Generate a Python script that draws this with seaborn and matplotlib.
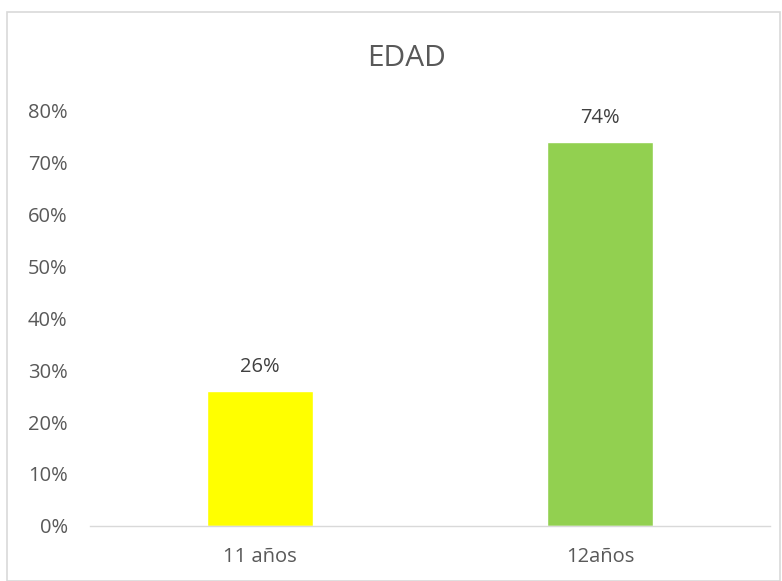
import matplotlib
matplotlib.use('Agg')
import matplotlib.pyplot as plt
import seaborn as sns
from matplotlib.ticker import PercentFormatter
from matplotlib.patches import Rectangle

# Données
categories = ['11 años', '12años']
valeurs = [0.26, 0.74]
couleurs = ['#FFFF00', '#92D050']
etiquettes = ['26%', '74%']

sns.set_style('white')
plt.rcParams['font.family'] = ['Open Sans', 'DejaVu Sans']

fig = plt.figure(figsize=(7.82, 5.81), dpi=100)
ax = fig.add_axes([0.115, 0.095, 0.87, 0.714])

sns.barplot(x=categories, y=valeurs, hue=categories, palette=couleurs,
            width=0.31, saturation=1, legend=False, ax=ax)

ax.set_ylim(0, 0.8)
ax.set_yticks([i / 10 for i in range(9)])
ax.yaxis.set_major_formatter(PercentFormatter(1.0, decimals=0))
ax.tick_params(axis='both', length=0, labelsize=14.5, colors='#595959')
ax.tick_params(axis='x', pad=15)
ax.tick_params(axis='y', pad=16)

for s in ['top', 'right', 'left']:
    ax.spines[s].set_visible(False)
ax.spines['bottom'].set_color('#D9D9D9')
ax.spines['bottom'].set_linewidth(1)

# Étiquettes des barres
for i, v in enumerate(valeurs):
    ax.annotate(etiquettes[i], (i, v), xytext=(0, 10), textcoords='offset points',
                ha='center', va='bottom', fontsize=14.5, color='#404040')

fig.text(0.52, 0.899, 'EDAD', ha='center', va='center', fontsize=21.5, color='#595959')

# Cadre du graphique
fig.patches.append(Rectangle((7 / 782, 0), 773 / 782, 569 / 581, transform=fig.transFigure,
                             fill=False, edgecolor='#D9D9D9', linewidth=1.2))

plt.savefig('out.png', dpi=100)
